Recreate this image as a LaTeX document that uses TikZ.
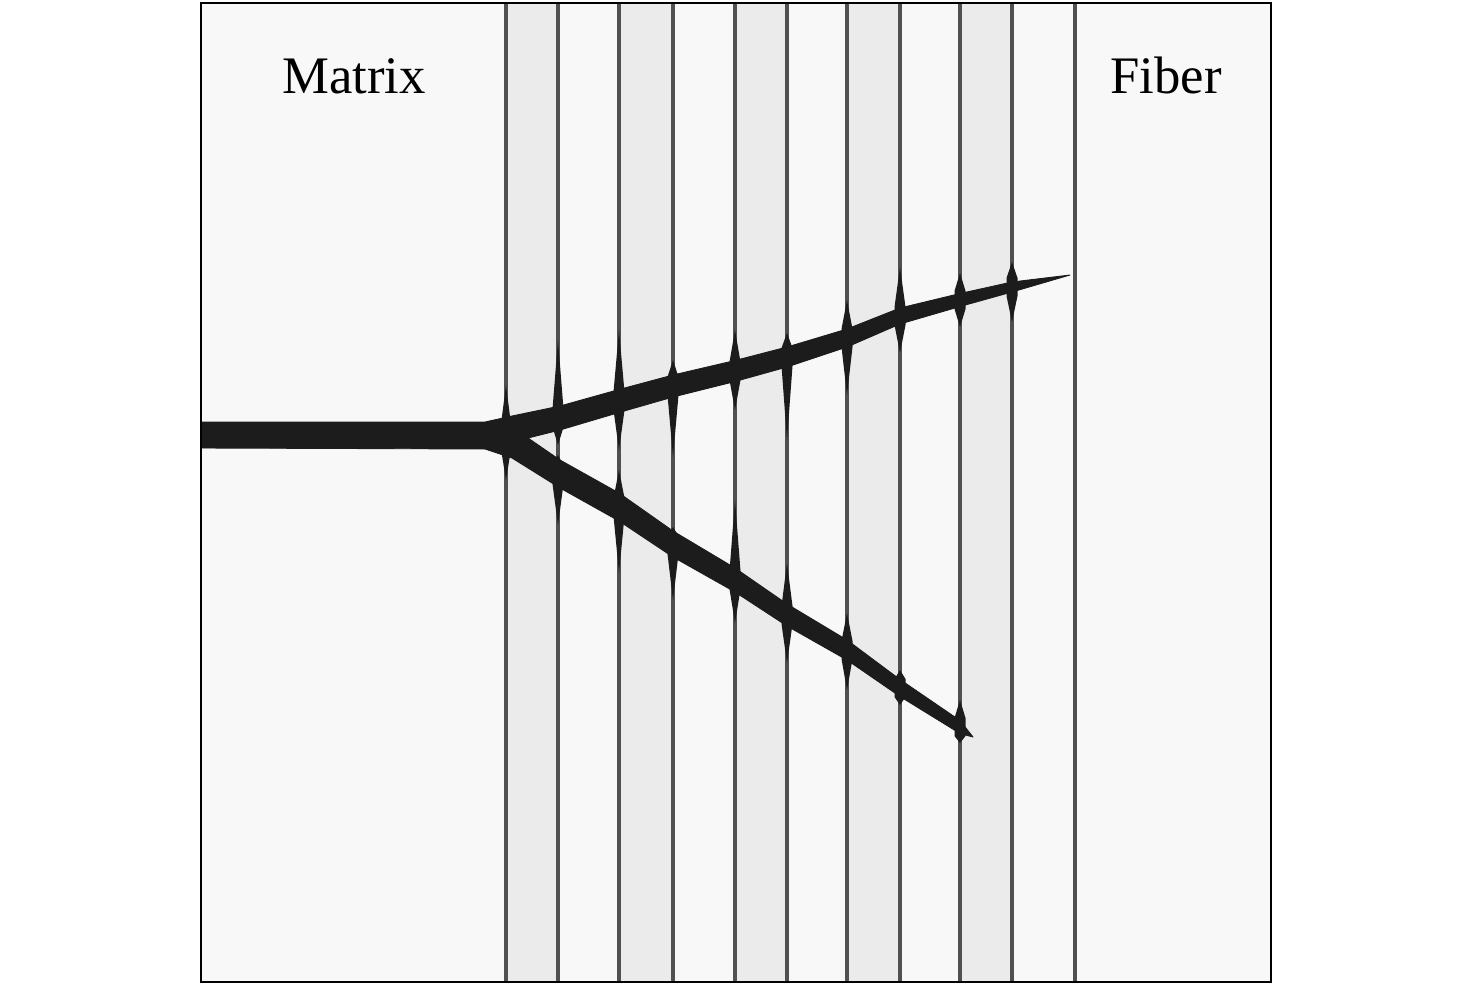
\documentclass[tikz,border=0pt]{standalone}
\usepackage{fontspec}
\setmainfont{Liberation Serif}
\usepackage{tikz}
\usetikzlibrary{calc}
\usepackage{xcolor}

\definecolor{crackcol}{HTML}{1C1C1C}
\definecolor{fibrecol}{HTML}{505050}
\definecolor{stripecol}{HTML}{EBEBEB}
\definecolor{bgcol}{HTML}{F8F8F8}

\tikzset{
  crack/.style={fill=crackcol,draw=crackcol,line width=0.5pt,line join=round},
  fibreline/.style={draw=fibrecol,line width=2pt},
  labeltext/.style={font=\fontsize{30}{36}\selectfont,anchor=base,inner sep=0pt}
}

\begin{document}
\begin{tikzpicture}[x=0.02cm,y=-0.02cm]
\useasboundingbox (0,0) rectangle (1476,984);

\fill[bgcol] (201,3) rectangle (1271,982);
\foreach \a/\b in {506/558,619/673,735/787,847/900,960/1012}
  \fill[stripecol] (\a,3) rectangle (\b,982);
\foreach \x in {506,558,619,673,735,787,847,900,960,1012,1075}
  \draw[fibreline] (\x,3) -- (\x,982);

% crack
\path[crack] (201,422) -- (485,422) -- (512,416) -- (560,406) -- (619,389.5)
  -- (673,375) -- (735,360.5) -- (787,347) -- (847,329) -- (900,308)
  -- (960,293.5) -- (1012,282) -- (1070,275)
  -- (1012,292) -- (960,306.5) -- (900,324) -- (847,347) -- (787,367)
  -- (735,381.5) -- (673,397) -- (619,412.5) -- (560,430) -- (528,438)
  -- (560,460) -- (619,493) -- (673,531) -- (735,568) -- (787,604)
  -- (847,640) -- (900,679.5) -- (960,720.5) -- (973,737)
  -- (960,733.5) -- (900,696.5) -- (847,660) -- (787,626) -- (735,592)
  -- (673,557) -- (619,521) -- (560,488) -- (512,458) -- (485,449)
  -- (201,448) -- cycle;

% spikes where the crack crosses the fibres
\foreach \px/\ptop/\pmid/\pbot in {506/385/437/480, 558/340/418/445, 558/455/475/525,
    619/330/401/450, 619/470/507/573, 673/360/386/457, 673/527/545/600,
    735/330/371/410, 735/500/580/623, 787/333/357/440, 787/563/615/663,
    847/300/338/395, 847/613/650/690, 900/267/316/353, 900/670/688/705,
    960/273/300/327, 960/700/727/743, 1012/262/287/322}
  \fill[crackcol] (\px,\ptop) -- ($(\px,\pmid)+(5.5,-9)$) -- ($(\px,\pmid)+(5.5,9)$)
    -- (\px,\pbot) -- ($(\px,\pmid)+(-5.5,9)$) -- ($(\px,\pmid)+(-5.5,-9)$) -- cycle;

\node[labeltext] (matrixlabel) at (354,93) {Matrix};
\node[labeltext] (fiberlabel) at (1166,93) {Fiber};

\draw[line width=1.2pt] (201,3) rectangle (1271,982);
\end{tikzpicture}
\end{document}
